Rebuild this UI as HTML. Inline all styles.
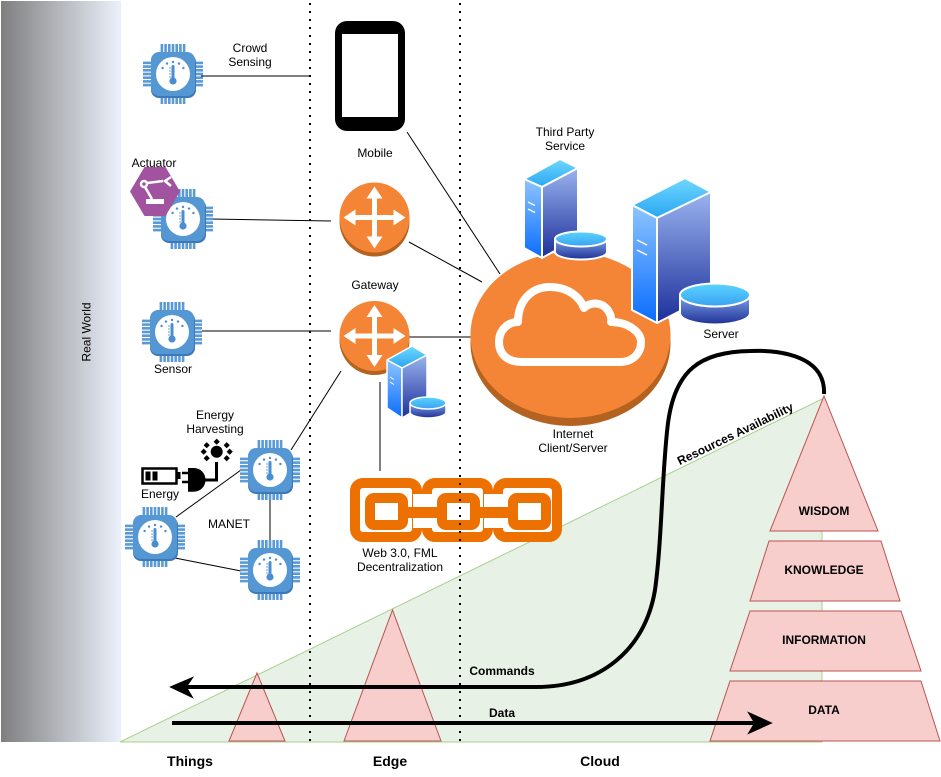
<!DOCTYPE html>
<html><head><meta charset="utf-8"><style>
html,body{margin:0;padding:0;background:#fff;}
svg{display:block;}
text{font-family:"Liberation Sans",Arial,sans-serif;}
</style></head><body>
<svg width="941" height="777" viewBox="0 0 941 777" xmlns="http://www.w3.org/2000/svg">
<defs>
<linearGradient id="gBar" x1="0" y1="0" x2="1" y2="0"><stop offset="0" stop-color="#7f7f7f"/><stop offset="1" stop-color="#ebf1fb"/></linearGradient>
<linearGradient id="gTop" x1="0" y1="0" x2="0" y2="1"><stop offset="0" stop-color="#6fd8ff"/><stop offset="1" stop-color="#2aa6f2"/></linearGradient>
<linearGradient id="gL" x1="0" y1="0" x2="0" y2="1"><stop offset="0" stop-color="#8ec5ff"/><stop offset="1" stop-color="#0a6cff"/></linearGradient>
<linearGradient id="gR" x1="0" y1="0" x2="0" y2="1"><stop offset="0" stop-color="#9ab4ef"/><stop offset="1" stop-color="#1c2f9a"/></linearGradient>
<linearGradient id="gDt" x1="0" y1="0" x2="0" y2="1"><stop offset="0" stop-color="#5ad4ff"/><stop offset="1" stop-color="#3aa2f0"/></linearGradient>
<linearGradient id="gDb" x1="0" y1="0" x2="0" y2="1"><stop offset="0" stop-color="#7da3ea"/><stop offset="1" stop-color="#1f3196"/></linearGradient>
<symbol id="chip" viewBox="-30 -30 60 60">
  <g fill="#5a9ad6">
    <rect x="-12.4" y="-30" width="2.6" height="9"/><rect x="-8.7" y="-30" width="2.6" height="9"/><rect x="-5" y="-30" width="2.6" height="9"/><rect x="-1.3" y="-30" width="2.6" height="9"/><rect x="2.4" y="-30" width="2.6" height="9"/><rect x="6.1" y="-30" width="2.6" height="9"/><rect x="9.8" y="-30" width="2.6" height="9"/>
    <rect x="-12.4" y="21" width="2.6" height="9"/><rect x="-8.7" y="21" width="2.6" height="9"/><rect x="-5" y="21" width="2.6" height="9"/><rect x="-1.3" y="21" width="2.6" height="9"/><rect x="2.4" y="21" width="2.6" height="9"/><rect x="6.1" y="21" width="2.6" height="9"/><rect x="9.8" y="21" width="2.6" height="9"/>
    <rect y="-12.4" x="-30" height="2.6" width="9"/><rect y="-8.7" x="-30" height="2.6" width="9"/><rect y="-5" x="-30" height="2.6" width="9"/><rect y="-1.3" x="-30" height="2.6" width="9"/><rect y="2.4" x="-30" height="2.6" width="9"/><rect y="6.1" x="-30" height="2.6" width="9"/><rect y="9.8" x="-30" height="2.6" width="9"/>
    <rect y="-12.4" x="21" height="2.6" width="9"/><rect y="-8.7" x="21" height="2.6" width="9"/><rect y="-5" x="21" height="2.6" width="9"/><rect y="-1.3" x="21" height="2.6" width="9"/><rect y="2.4" x="21" height="2.6" width="9"/><rect y="6.1" x="21" height="2.6" width="9"/><rect y="9.8" x="21" height="2.6" width="9"/>
  </g>
  <rect x="-22" y="-20" width="45" height="44" rx="8" fill="#3d78b8"/>
  <rect x="-22" y="-22" width="44" height="44" rx="8" fill="#5597d3"/>
  <circle cx="0" cy="0" r="17" fill="#fff"/>
  <rect x="-1.5" y="-9" width="3" height="15" rx="1.5" fill="#4a8dd0"/>
  <circle cx="0" cy="7" r="3.6" fill="#4a8dd0"/>
  <g stroke="#4a8dd0" stroke-width="0.8"><line x1="-4" y1="-6" x2="-2" y2="-6"/><line x1="-4" y1="-3" x2="-2" y2="-3"/><line x1="-4" y1="0" x2="-2" y2="0"/><line x1="-4" y1="3" x2="-2" y2="3"/></g>
  <g fill="#4a8dd0"><circle cx="-10.4" cy="-6" r="1.2"/><circle cx="-6" cy="-10.4" r="1.2"/><circle cx="0" cy="-12" r="1.2"/><circle cx="6" cy="-10.4" r="1.2"/><circle cx="10.4" cy="-6" r="1.2"/></g>
</symbol>
<symbol id="router" viewBox="-36 -36 72 76">
  <circle cx="0" cy="4" r="35" fill="#b3621f"/>
  <circle cx="0" cy="0" r="35" fill="#f58536"/>
  <g fill="#fff">
    <rect x="-2.5" y="-22" width="5" height="44"/><rect x="-22" y="-2.5" width="44" height="5"/>
    <polygon points="0,-31 -8,-19 8,-19"/><polygon points="0,31 -8,19 8,19"/>
    <polygon points="-31,0 -19,-8 -19,8"/><polygon points="31,0 19,-8 19,8"/>
  </g>
</symbol>
</defs>

<!-- Real world bar -->
<rect x="1" y="1" width="120" height="741" fill="url(#gBar)"/>
<text transform="translate(90.5,332) rotate(-90)" text-anchor="middle" font-size="12" fill="#000">Real World</text>

<!-- resources triangle -->
<polygon points="120,742 822,399 822,742" fill="#e7f1e5" stroke="#a9d08e" stroke-width="1"/>
<text transform="translate(737,437.5) rotate(-25.9)" text-anchor="middle" font-size="12" font-weight="bold">Resources Availability</text>

<!-- connection lines -->
<g stroke="#000" stroke-width="1" fill="none">
  <line x1="201" y1="76" x2="310" y2="76"/>
  <line x1="211" y1="219" x2="331" y2="221"/>
  <line x1="202" y1="331" x2="331" y2="331"/>
  <line x1="409" y1="337" x2="472" y2="337"/>
  <line x1="409" y1="242" x2="482" y2="282"/>
  <line x1="407" y1="132" x2="500" y2="274"/>
  <line x1="341" y1="371" x2="291" y2="450"/>
  <line x1="380" y1="382" x2="380" y2="471"/>
  <line x1="241" y1="470" x2="176" y2="517"/>
  <line x1="175" y1="558" x2="241" y2="571"/>
  <line x1="270" y1="500" x2="270" y2="540"/>
</g>

<!-- chips -->
<use href="#chip" x="143" y="44" width="60" height="60"/>
<use href="#chip" x="153" y="189" width="60" height="60"/>
<use href="#chip" x="142" y="302" width="60" height="60"/>
<use href="#chip" x="240" y="440" width="60" height="60"/>
<use href="#chip" x="125" y="507" width="60" height="60"/>
<use href="#chip" x="240" y="540" width="60" height="60"/>

<!-- actuator hexagon -->
<polygon points="130,191.5 144.5,167 165.5,167 180,191.5 165.5,216 144.5,216" fill="#a153a0"/>
<g stroke="#fff" fill="none" stroke-width="2.5">
  <circle cx="144" cy="184" r="3"/>
  <line x1="147" y1="183" x2="163" y2="181"/>
  <path d="M171 177 L165 181 L171 186"/>
  <line x1="145" y1="187" x2="152" y2="199"/>
</g>
<rect x="146" y="199" width="18" height="5" fill="#fff"/>

<!-- energy icons -->
<rect x="142.5" y="468.5" width="34" height="15" fill="#fff" stroke="#000" stroke-width="2.5"/>
<rect x="177" y="472" width="3.5" height="7" fill="#000"/>
<rect x="145.5" y="471.5" width="5" height="9" fill="#000"/>
<rect x="152.5" y="471.5" width="5" height="9" fill="#000"/>
<g stroke="#000" stroke-width="2.5"><line x1="182" y1="473" x2="189" y2="473"/><line x1="182" y1="482" x2="189" y2="482"/></g>
<path d="M188 468 L194 468 A11.5 11.8 0 0 1 194 491.7 L188 491.7 Z" fill="#000"/>
<path d="M204 480 L216.5 480 L216.5 462" stroke="#000" stroke-width="3" fill="none"/>
<circle cx="216.7" cy="451.7" r="6" fill="#000"/>
<g fill="#000">
  <rect x="214.5" y="439.5" width="4.4" height="4.4" transform="rotate(45 216.7 441.7)"/>
  <rect x="204.5" y="443" width="4.4" height="4.4" transform="rotate(45 206.7 445.2)"/>
  <rect x="224.5" y="443" width="4.4" height="4.4" transform="rotate(45 226.7 445.2)"/>
  <rect x="201.5" y="449.5" width="4.4" height="4.4" transform="rotate(45 203.7 451.7)"/>
  <rect x="227.5" y="449.5" width="4.4" height="4.4" transform="rotate(45 229.7 451.7)"/>
  <rect x="204.5" y="456" width="4.4" height="4.4" transform="rotate(45 206.7 458.2)"/>
  <rect x="224.5" y="456" width="4.4" height="4.4" transform="rotate(45 226.7 458.2)"/>
</g>

<!-- mobile -->
<rect x="335" y="21" width="70" height="110" rx="12" fill="#000"/>
<rect x="342" y="34" width="56" height="83" fill="#fff"/>

<!-- routers -->
<use href="#router" x="338.5" y="181.5" width="72" height="76"/>
<use href="#router" x="338.5" y="300" width="72" height="76"/>

<!-- gateway small server -->
<g stroke="#fff" stroke-width="1.5" stroke-linejoin="round">
  <polygon points="387,360 412,346 427,355 402,368" fill="url(#gTop)"/>
  <polygon points="387,360 402,368 402,418 387,408" fill="url(#gL)"/>
  <polygon points="402,368 427,355 427,403 402,418" fill="url(#gR)"/>
  <path d="M410,403 L410,412 A18,6 0 0 0 446,412 L446,403 Z" fill="url(#gDb)"/>
  <ellipse cx="428" cy="403" rx="18" ry="6" fill="url(#gDt)"/>
</g>
<g stroke="#fff" stroke-width="1"><line x1="390" y1="377" x2="394" y2="379.5"/><line x1="390" y1="382" x2="394" y2="384.5"/></g>

<!-- cloud disc -->
<ellipse cx="570.5" cy="343" rx="100" ry="83" fill="#b3621f"/>
<ellipse cx="570.5" cy="335" rx="100" ry="83" fill="#f58536"/>
<path d="M522,362 C505,362 499,352 499,342 C499,330 508,322 518,322 C518,300 532,287 550,287 C568,287 580,297 584,308 C590,302 600,302 606,308 C610,312 612,318 611,322 C628,322 641,332 641,342 C641,354 632,362 620,362 Z" fill="none" stroke="#fff" stroke-width="8" stroke-linejoin="round"/>

<!-- third party server -->
<g stroke="#fff" stroke-width="2" stroke-linejoin="round">
  <polygon points="524,179 560,159 578,168 542,187" fill="url(#gTop)"/>
  <polygon points="524,179 542,187 542,258 524,248" fill="url(#gL)"/>
  <polygon points="542,187 578,168 578,238 542,258" fill="url(#gR)"/>
  <path d="M555,239 L555,252 A26,7.5 0 0 0 607,252 L607,239 Z" fill="url(#gDb)"/>
  <ellipse cx="581" cy="239" rx="26" ry="7.5" fill="url(#gDt)"/>
</g>
<g stroke="#fff" stroke-width="1.3"><line x1="528" y1="202" x2="535" y2="205.5"/><line x1="528" y1="209" x2="535" y2="212.5"/></g>

<!-- big server -->
<g stroke="#fff" stroke-width="2" stroke-linejoin="round">
  <polygon points="632,205 685,178 711,192 657,218" fill="url(#gTop)"/>
  <polygon points="632,205 657,218 657,323 632,310" fill="url(#gL)"/>
  <polygon points="657,218 711,192 711,295 657,323" fill="url(#gR)"/>
  <path d="M680,295 L680,313 A35,11.5 0 0 0 750,313 L750,295 Z" fill="url(#gDb)"/>
  <ellipse cx="715" cy="295" rx="35" ry="11.5" fill="url(#gDt)"/>
</g>
<g stroke="#fff" stroke-width="1.5"><line x1="637" y1="240" x2="647" y2="245"/><line x1="637" y1="250" x2="647" y2="255"/></g>

<!-- chain -->
<g fill="none" stroke="#ed7100">
  <rect x="355" y="483" width="62" height="54" rx="8" stroke-width="10"/>
  <rect x="427" y="483" width="61" height="54" rx="8" stroke-width="10"/>
  <rect x="498" y="483" width="59" height="54" rx="8" stroke-width="10"/>
</g>
<rect x="413" y="494" width="19" height="34" fill="#fff"/>
<rect x="484" y="494" width="19" height="34" fill="#fff"/>
<g fill="none" stroke="#ed7100" stroke-width="10">
  <rect x="370" y="498" width="33" height="27" rx="4"/>
  <rect x="442" y="498" width="33" height="27" rx="4"/>
  <rect x="513" y="498" width="33" height="27" rx="4"/>
</g>
<rect x="407" y="507" width="31" height="11" fill="#ed7100"/>
<rect x="479" y="507" width="31" height="11" fill="#ed7100"/>

<!-- pyramids -->
<g fill="#f8cecc" stroke="#b85450" stroke-width="1">
  <polygon points="824,396 878,531 770,531"/>
  <polygon points="769,541 881,541 900,601 750,601"/>
  <polygon points="750,611 901,611 921,671 730,671"/>
  <polygon points="730,681 921,681 940,741 710,741"/>
  <polygon points="229,741 257,673 285,741"/>
  <polygon points="344,741 392.5,610 441,741"/>
</g>
<g font-size="12" font-weight="bold" text-anchor="middle" fill="#000">
  <text x="824" y="515">WISDOM</text>
  <text x="824" y="574">KNOWLEDGE</text>
  <text x="824" y="644">INFORMATION</text>
  <text x="824" y="714">DATA</text>
</g>

<!-- arrows -->
<path d="M824 394 C826 352, 770 350, 750 351 C700 352, 675 370, 668 423 C662 470, 662 540, 655 590 C645 650, 600 687, 536 687 L185 687" fill="none" stroke="#000" stroke-width="4"/>
<polygon points="171,687 192,678 186,687 192,697" fill="#000" stroke="#000" stroke-width="1.5" stroke-linejoin="miter"/>
<line x1="172" y1="723" x2="758" y2="723" stroke="#000" stroke-width="4"/>
<polygon points="771,723 749,713 755,723 749,733" fill="#000" stroke="#000" stroke-width="1.5"/>

<!-- dotted lines -->
<g stroke="#000" stroke-width="2" stroke-dasharray="2 6">
  <line x1="310" y1="3" x2="310" y2="742"/>
  <line x1="460" y1="3" x2="460" y2="742"/>
</g>

<!-- labels -->
<g font-size="12" text-anchor="middle" fill="#000">
  <text x="250" y="52">Crowd</text>
  <text x="250" y="66">Sensing</text>
  <text x="375" y="157">Mobile</text>
  <text x="154" y="167">Actuator</text>
  <text x="565" y="136">Third Party</text>
  <text x="565" y="150">Service</text>
  <text x="375" y="289">Gateway</text>
  <text x="721" y="338">Server</text>
  <text x="173" y="373">Sensor</text>
  <text x="573" y="438">Internet</text>
  <text x="573" y="452">Client/Server</text>
  <text x="215" y="419">Energy</text>
  <text x="215" y="433">Harvesting</text>
  <text x="160" y="498">Energy</text>
  <text x="229" y="528">MANET</text>
  <text x="400" y="557">Web 3.0, FML</text>
  <text x="400" y="571">Decentralization</text>
</g>
<g font-size="12" font-weight="bold" text-anchor="middle" fill="#000">
  <text x="502" y="675">Commands</text>
  <text x="502" y="717">Data</text>
</g>
<g font-size="14" font-weight="bold" text-anchor="middle" fill="#000">
  <text x="190" y="766">Things</text>
  <text x="390" y="766">Edge</text>
  <text x="600" y="766">Cloud</text>
</g>
</svg>
</body></html>
